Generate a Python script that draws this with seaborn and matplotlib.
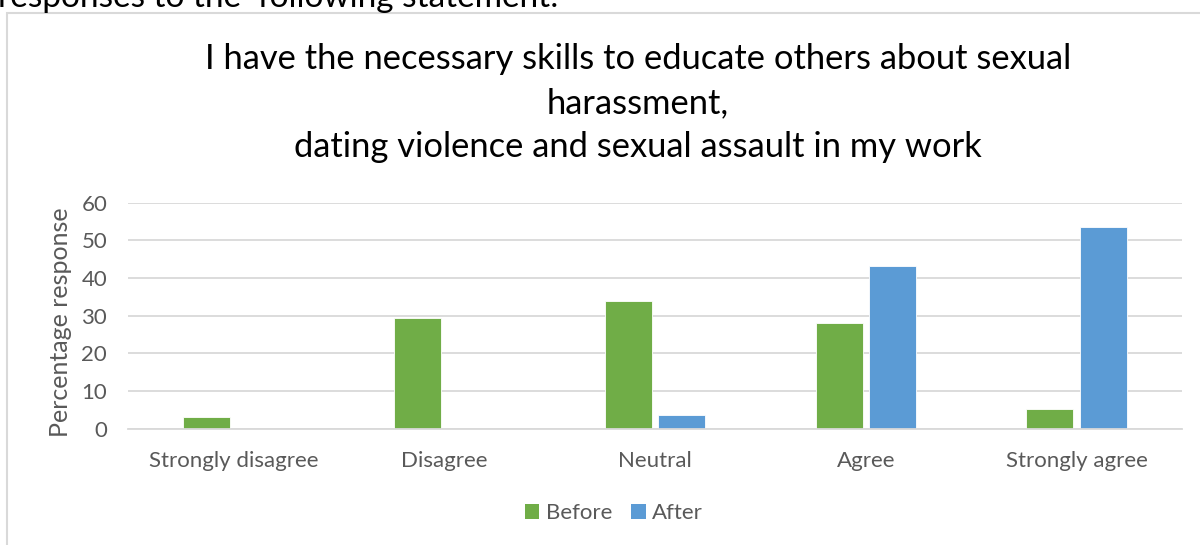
import matplotlib
matplotlib.use("Agg")
import matplotlib.pyplot as plt
import seaborn as sns
import pandas as pd
from matplotlib.patches import Patch, Rectangle

categories = ["Strongly disagree", "Disagree", "Neutral", "Agree", "Strongly agree"]
before = [3.2, 29.3, 33.8, 28.1, 5.3]
after = [0, 0, 3.6, 43.3, 53.5]
series = ["Before", "After"]
colors = ["#70AD47", "#5B9BD5"]
yticks = [0, 10, 20, 30, 40, 50, 60]
title = ("I have the necessary skills to educate others about sexual\n"
         "harassment,\n"
         "dating violence and sexual assault in my work")
ylabel = "Percentage response"
above_text = "responses to the  following statement:"

df = pd.DataFrame({
    "Category": categories * 2,
    "Series": ["Before"] * len(categories) + ["After"] * len(categories),
    "Value": before + after,
})

sns.set_theme(style="white")
plt.rcParams["font.family"] = ["Lato", "DejaVu Sans"]

W, H = 1200, 545
fig = plt.figure(figsize=(12, 5.45), dpi=100)
ax = fig.add_axes([128 / W, (H - 428.7) / H, (1182 - 128) / W, (428.7 - 202.7) / H])

sns.barplot(data=df, x="Category", y="Value", hue="Series", order=categories,
            hue_order=series, palette=colors, saturation=1, width=0.507, gap=0.12,
            edgecolor="#ffffff", linewidth=0.6, ax=ax, legend=False)

ax.set_xlim(-0.5, len(categories) - 0.5)
ax.set_ylim(0, 60)
ax.set_yticks(yticks)
ax.set_yticklabels([str(t) for t in yticks])
ax.yaxis.grid(True, color="#d9d9d9", linewidth=1.3)
ax.set_axisbelow(True)
for s in ["top", "right", "left"]:
    ax.spines[s].set_visible(False)
ax.spines["bottom"].set_color("#d9d9d9")
ax.spines["bottom"].set_linewidth(1.3)
ax.tick_params(axis="both", length=0, colors="#595959", labelsize=16)
ax.tick_params(axis="y", pad=15)
ax.tick_params(axis="x", pad=16)
ax.set_xlabel("")
ax.set_ylabel("")

fig.text(61 / W, 1 - 322 / H, ylabel, rotation=90, ha="center", va="center",
         fontsize=18, color="#595959")

# title
fig.text(638 / W, 1 - 103 / H, title, ha="center", va="center", fontsize=24.8,
         color="#000000", linespacing=1.45)

# cut-off text above the chart box
fig.text(-2 / W, 1 - 7 / H, above_text, ha="left", va="baseline", fontsize=24,
         color="#000000")

# chart border
fig.patches.append(Rectangle((7 / W, -0.05), 1.2, 1 - 13 / H + 0.05, transform=fig.transFigure,
                             fill=False, edgecolor="#d9d9d9", linewidth=1.5))

handles = [Patch(facecolor=c, edgecolor="none") for c in colors]
fig.legend(handles, series, loc="center", bbox_to_anchor=(614 / W, 1 - 513 / H),
           ncol=2, frameon=False, fontsize=16, labelcolor="#595959",
           handlelength=0.65, handleheight=0.65, handletextpad=0.3, columnspacing=0.85)

fig.savefig("out.png", dpi=100)
